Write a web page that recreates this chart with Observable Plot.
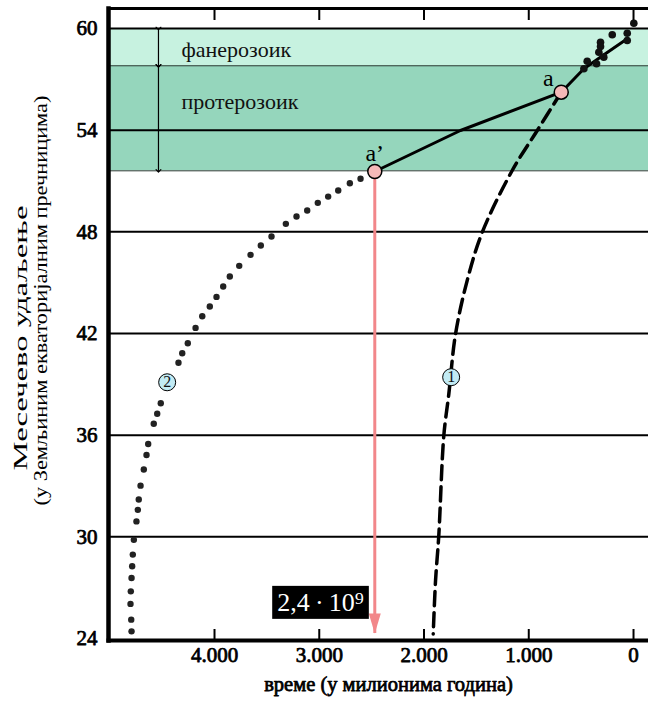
<!DOCTYPE html>
<html><head><meta charset="utf-8">
<script src="https://cdn.jsdelivr.net/npm/d3@7"></script>
<script src="https://cdn.jsdelivr.net/npm/@observablehq/plot@0.6"></script>
<style>
html,body{margin:0;padding:0;background:#fff;}
#chart svg{display:block;}
</style>
</head><body>
<div id="chart"></div>
<script>
// ---- axis ticks ----
const xTicks = [4000, 3000, 2000, 1000, 0];
const xTickLabels = ["4.000", "3.000", "2.000", "1.000", "0"];
const yTicks = [24, 30, 36, 42, 48, 54, 60];
const gridLines = [30, 36, 42, 48, 54, 60];

// ---- geological eons (Earth radii) ----
const eonNames = ["фанерозоик", "протерозоик"];
const eonTop = [60, 57.8];
const eonBottom = [57.8, 51.6];
const eonLabelDist = [58.74, 55.65];
const eonLabelTime = 4315;
const eonArrowTime = 4535;

// ---- curve 1 (dashed) : time (Myr), distance ----
const s1Time = [690, 919, 1158, 1444, 1588, 1699, 1763, 1811, 1859, 1890, 1912];
const s1Dist = [56.24, 53.98, 51.62, 47.97, 45.12, 41.97, 38.44, 35.97, 30.07, 27.41, 24.27];

// ---- curve 2 (dotted) ----
const s2Time = [2606, 2708, 2819, 2915, 3014, 3115, 3217, 3319, 3456, 3558, 3656, 3764, 3854, 3917, 3981, 4045, 4117, 4181, 4255, 4308, 4344, 4513, 4547, 4580, 4633, 4649, 4675, 4706, 4723, 4732, 4745, 4770, 4780, 4786, 4792, 4799, 4802, 4795, 4792];
const s2Dist = [51.13, 50.87, 50.44, 50.08, 49.71, 49.26, 48.90, 48.47, 47.72, 47.19, 46.64, 45.99, 45.36, 44.77, 44.16, 43.59, 43.02, 42.33, 41.42, 40.83, 40.27, 37.88, 37.26, 36.67, 35.48, 34.83, 33.97, 33.02, 32.20, 31.59, 30.91, 29.82, 28.95, 28.26, 27.57, 26.78, 26.04, 25.11, 24.42];

// ---- measured path (solid) ----
const solidTime = [2470, 1652, 690, 474, 286, 60];
const solidDist = [51.56, 53.98, 56.24, 57.62, 58.44, 59.39];

// ---- phanerozoic measurements (dots) ----
const measTime = [-3, 60, 60, 203, 315, 315, 331, 284, 353, 442, 474];
const measDist = [60.31, 59.72, 59.29, 59.63, 59.19, 58.94, 58.60, 58.31, 57.92, 58.07, 57.62];

// ---- highlighted points ----
const pointLabels = ["a’", "a"];
const pointTime = [2470, 690];
const pointDist = [51.56, 56.24];

// ---- curve number badges ----
const badgeLabels = ["1", "2"];
const badgeTime = [1741, 4452];
const badgeDist = [39.42, 39.12];

// ---- arrow to axis ----
const arrowTipDist = 24.3;
const boxLabel = "2,4\u2009·\u200910⁹";
const boxTime = 2988;
const boxDist = 26.12;

const xTitle = "време (у милионима година)";
const yTitle1 = "Месечево удаљење";
const yTitle2 = "(у Земљиним екваторијалним пречницима)";

const xDomain = [5012, -143];
const yDomain = [23.88, 61.18];

// ---- tables ----
const eons = eonNames.map((name, i) => ({name, top: eonTop[i], bottom: eonBottom[i], labelDist: eonLabelDist[i]}));
const s1 = s1Time.map((t, i) => ({time: t, dist: s1Dist[i]}));
const s2 = s2Time.map((t, i) => ({time: t, dist: s2Dist[i]}));
const solid = solidTime.map((t, i) => ({time: t, dist: solidDist[i]}));
const meas = measTime.map((t, i) => ({time: t, dist: measDist[i]}));
const points = pointLabels.map((label, i) => ({label, time: pointTime[i], dist: pointDist[i]}));
const badges = badgeLabels.map((label, i) => ({label, time: badgeTime[i], dist: badgeDist[i]}));
const eonFills = ["#c7f2e0", "#95d6bc"];
const red = "#f2878a";
const serif = "'Liberation Serif', 'Times New Roman', serif";
// faux-bold serif (regular face thickened with a same-colour stroke)
const boldText = {fontFamily: serif, fontWeight: "normal", fill: "#000", stroke: "#000", strokeWidth: 0.75};

const chart = Plot.plot({
  width: 648,
  height: 704,
  marginTop: 8,
  marginBottom: 64,
  marginLeft: 108,
  marginRight: 0,
  style: {fontFamily: serif, fontSize: "16px", background: "#fff", color: "#000"},
  x: {domain: xDomain, axis: null},
  y: {domain: yDomain, axis: null},
  marks: [
    Plot.rect(eons, {y1: "bottom", y2: "top", fill: (d) => eonFills[eonNames.indexOf(d.name)]}),
    Plot.ruleY(eons, {y: "bottom", stroke: "#2e3b35", strokeWidth: 1}),
    Plot.ruleY(gridLines, {stroke: "#000", strokeWidth: 2}),
    Plot.link(eons, {x1: () => eonArrowTime, x2: () => eonArrowTime, y1: "top", y2: "bottom", stroke: "#000", strokeWidth: 1.2, markerStart: "arrow", markerEnd: "arrow"}),
    Plot.text(eons, {x: () => eonLabelTime, y: "labelDist", text: "name", textAnchor: "start", fontSize: 22, fill: "#111", fontFamily: serif}),
    // curve 1
    Plot.line(s1, {x: "time", y: "dist", curve: "catmull-rom", stroke: "#000", strokeWidth: 3.5, strokeDasharray: "14,7"}),
    // red arrow
    Plot.ruleX(points.filter(d => d.label !== "a"), {x: "time", y1: "dist", y2: () => arrowTipDist, stroke: red, strokeWidth: 3}),
    Plot.vector(points.filter(d => d.label !== "a"), {x: "time", y: () => arrowTipDist, length: 20, r: 6, shape: "spike", rotate: 180, anchor: "end", fill: red, stroke: "none"}),
    // solid path
    Plot.line(solid, {x: "time", y: "dist", stroke: "#000", strokeWidth: 3}),
    Plot.dot(meas, {x: "time", y: "dist", r: 3.8, fill: "#111", stroke: "none"}),
    // curve 2
    Plot.dot(s2, {x: "time", y: "dist", r: 3.2, fill: "#222", stroke: "none"}),
    // highlighted points
    Plot.dot(points, {x: "time", y: "dist", r: 7, fill: "#f5b9b8", stroke: "#000", strokeWidth: 1.5}),
    Plot.text(points.filter(d => d.label === "a"), {x: "time", y: "dist", text: "label", dx: -13, dy: -14, fontSize: 24, fontFamily: serif}),
    Plot.text(points.filter(d => d.label !== "a"), {x: "time", y: "dist", text: "label", dx: 0, dy: -18, fontSize: 24, fontFamily: serif}),
    // badges
    Plot.dot(badges, {x: "time", y: "dist", r: 8.5, fill: "#c2ebf4", stroke: "#000", strokeWidth: 1}),
    Plot.text(badges, {x: "time", y: "dist", text: "label", fontSize: 16, fill: "#111", fontFamily: serif}),
    // box label
    Plot.text([boxLabel], {x: () => boxTime, y: () => boxDist, text: d => d, fontSize: 26, fill: "#fff", fontFamily: serif, className: "boxlabel"}),
    // ticks inside frame
    Plot.tickX(xTicks, {x: d => d, insetTop: 621, stroke: "#000", strokeWidth: 2}),
    Plot.tickX(xTicks, {x: d => d, insetBottom: 620, stroke: "#000", strokeWidth: 2}),
    // frame sides
    Plot.frame({anchor: "left", stroke: "#000", strokeWidth: 4.5}),
    Plot.frame({anchor: "top", stroke: "#000", strokeWidth: 3}),
    Plot.frame({anchor: "bottom", stroke: "#000", strokeWidth: 4}),
    // tick labels (through the scales)
    Plot.text(yTicks, {y: d => d, frameAnchor: "left", dx: -11, textAnchor: "end", text: d => String(d), fontSize: 21, ...boldText}),
    Plot.text(xTicks, {x: d => d, frameAnchor: "bottom", dy: 21, text: d => xTickLabels[xTicks.indexOf(d)], fontSize: 21, ...boldText}),
    // titles
    Plot.text([xTitle], {frameAnchor: "bottom", text: d => d, dx: 10, dy: 50, fontSize: 20.5, ...boldText}),
    Plot.text([yTitle1], {frameAnchor: "left", text: d => d, rotate: -90, textAnchor: "start", dx: -88, dy: 146, fontSize: 19, fontFamily: serif, className: "yt1"}),
    Plot.text([yTitle2], {frameAnchor: "left", text: d => d, rotate: -90, textAnchor: "start", dx: -68, dy: 181, fontSize: 19, fontFamily: serif, className: "yt2"})
  ]
});
document.getElementById("chart").append(chart);

// stretch the vertical titles like the original artwork
chart.querySelectorAll(".yt1 text").forEach(t => { t.setAttribute("textLength", 265); t.setAttribute("lengthAdjust", "spacingAndGlyphs"); });
chart.querySelectorAll(".yt2 text").forEach(t => { t.setAttribute("textLength", 410); t.setAttribute("lengthAdjust", "spacingAndGlyphs"); });

// black box behind the value label
chart.querySelectorAll(".boxlabel text").forEach(t => {
  const b = t.getBBox();
  const r = document.createElementNS("http://www.w3.org/2000/svg", "rect");
  const px = 5, py = 2;
  r.setAttribute("x", b.x - px);
  r.setAttribute("y", b.y - py);
  r.setAttribute("width", b.width + 2 * px);
  r.setAttribute("height", b.height + 2 * py);
  r.setAttribute("fill", "#000");
  r.setAttribute("stroke", "none");
  const tr = t.getAttribute("transform");
  if (tr) r.setAttribute("transform", tr);
  t.parentNode.insertBefore(r, t);
});
</script>
</body></html>
